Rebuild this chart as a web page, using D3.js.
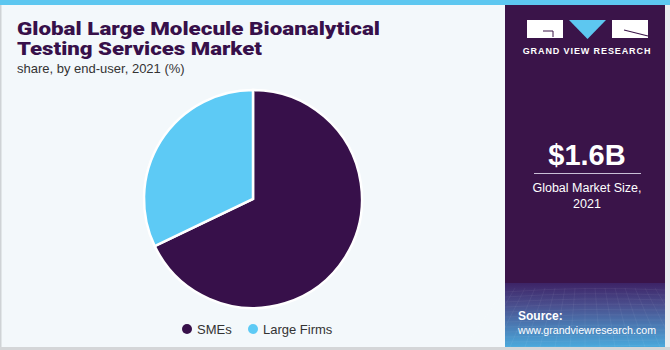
<!DOCTYPE html>
<html><head><meta charset="utf-8">
<script src="https://cdn.jsdelivr.net/npm/d3@7"></script>
<style>body{margin:0;padding:0;background:#fff}svg{display:block}</style>
</head><body>
<svg id="c" width="670" height="350"></svg>
<script>
const categories = ["SMEs", "Large Firms"];
const shares = [67.9, 32.1];
const colors = ["#37104A", "#5DCAF5"];
const titleLines = ["Global Large Molecule Bioanalytical", "Testing Services Market"];
const subtitle = "share, by end-user, 2021 (%)";
const marketValue = "$1.6B";
const marketLabel = ["Global Market Size,", "2021"];

const svg = d3.select("#c");
const defs = svg.append("defs");
const grad = defs.append("linearGradient").attr("id","g1").attr("x1",0).attr("y1",0).attr("x2",0).attr("y2",1);
grad.append("stop").attr("offset","0%").attr("stop-color","#3d2366");
grad.append("stop").attr("offset","35%").attr("stop-color","#4a4f8e");
grad.append("stop").attr("offset","100%").attr("stop-color","#4aa9dc");

// backgrounds
svg.append("rect").attr("width",670).attr("height",350).attr("fill","#F3F8FB");
svg.append("rect").attr("x",0).attr("y",0).attr("width",1.5).attr("height",350).attr("fill","#cfd3d6");
svg.append("rect").attr("x",0).attr("y",347).attr("width",670).attr("height",3).attr("fill","#d4d6d8");
svg.append("rect").attr("x",0).attr("y",0).attr("width",670).attr("height",5).attr("fill","#5DC7F0");
// right panel
svg.append("rect").attr("x",505).attr("y",5).attr("width",160).attr("height",278).attr("fill","#3A1449");
svg.append("rect").attr("x",505).attr("y",283).attr("width",160).attr("height",64).attr("fill","url(#g1)");
const mesh = svg.append("g").attr("stroke","#ffffff").attr("stroke-opacity",0.09).attr("stroke-width",0.6).attr("fill","none");
for (let i=0;i<12;i++){ const y=292+i*5; mesh.append("path").attr("d",`M505,${y} Q585,${y-6+i*0.5} 665,${y-2}`); }
for (let i=0;i<17;i++){ const x=505+i*10; mesh.append("path").attr("d",`M${x},288 L${x+(x-585)*0.5},347`); }
svg.append("rect").attr("x",665).attr("y",5).attr("width",5).attr("height",342).attr("fill","#e9ecef");

// logo
const lg = svg.append("g");
lg.append("rect").attr("x",527).attr("y",20).attr("width",36).attr("height",18).attr("fill","#fff");
lg.append("path").attr("d","M543,31 L553,31 L553,37").attr("stroke","#3A1449").attr("stroke-width",1).attr("fill","none");
lg.append("path").attr("d","M569,20 L606,20 L587.5,39 Z").attr("fill","#5DC7F0");
lg.append("rect").attr("x",612).attr("y",20).attr("width",36).attr("height",18).attr("fill","#fff");
lg.append("path").attr("d","M624,30 L648,36").attr("stroke","#3A1449").attr("stroke-width",1.2);
svg.append("text").attr("x",587).attr("y",54).attr("text-anchor","middle").attr("fill","#fff")
  .attr("font-family","Liberation Sans, Arial, sans-serif").attr("font-weight","bold").attr("font-size",9).attr("letter-spacing",0.9)
  .text("GRAND VIEW RESEARCH");

// market size
svg.append("text").attr("x",587).attr("y",165).attr("text-anchor","middle").attr("fill","#fff")
  .attr("font-family","Liberation Sans, Arial, sans-serif").attr("font-weight","bold").attr("font-size",29).text(marketValue);
svg.append("line").attr("x1",534).attr("x2",641).attr("y1",173.5).attr("y2",173.5).attr("stroke","#c9bfd6").attr("stroke-width",1);
marketLabel.forEach((t,i)=>svg.append("text").attr("x",587).attr("y",192+i*16).attr("text-anchor","middle").attr("fill","#fff")
  .attr("font-family","Liberation Sans, Arial, sans-serif").attr("font-size",12.5).text(t));

// source
svg.append("text").attr("x",518).attr("y",320).attr("fill","#fff").attr("font-family","Liberation Sans, Arial, sans-serif")
  .attr("font-weight","bold").attr("font-size",12).text("Source:");
svg.append("text").attr("x",518).attr("y",334).attr("fill","#fff").attr("font-family","Liberation Sans, Arial, sans-serif")
  .attr("font-size",11.5).attr("textLength",138).attr("lengthAdjust","spacingAndGlyphs").text("www.grandviewresearch.com");

// title
const titleLens = [363, 245];
titleLines.forEach((t,i)=>svg.append("text").attr("x",17).attr("y",35+i*20).attr("fill","#37104A")
  .attr("font-family","Roboto, Liberation Sans, sans-serif").attr("font-weight",900).attr("font-size",18.5)
  .attr("textLength", titleLens[i]).attr("lengthAdjust","spacingAndGlyphs").text(t));
svg.append("text").attr("x",17).attr("y",73).attr("fill","#333").attr("font-family","Liberation Sans, Arial, sans-serif")
  .attr("font-size",13).text(subtitle);

// pie
const cx=253, cy=199, r=109;
const pie = d3.pie().sort(null).value(d=>d)(shares);
const arc = d3.arc().innerRadius(0).outerRadius(r);
svg.append("g").attr("transform",`translate(${cx},${cy})`).selectAll("path").data(pie).join("path")
  .attr("d",arc).attr("fill",(d,i)=>colors[i]).attr("stroke","#ffffff").attr("stroke-width",2.5).attr("stroke-linejoin","miter");

// legend
const leg = svg.append("g");
const lx=[187,253];
categories.forEach((c,i)=>{
  leg.append("circle").attr("cx",lx[i]).attr("cy",329).attr("r",5).attr("fill",colors[i]);
  leg.append("text").attr("x",lx[i]+10).attr("y",333.5).attr("fill","#333").attr("font-family","Liberation Sans, Arial, sans-serif")
    .attr("font-size",13).text(c);
});
</script>
</body></html>
